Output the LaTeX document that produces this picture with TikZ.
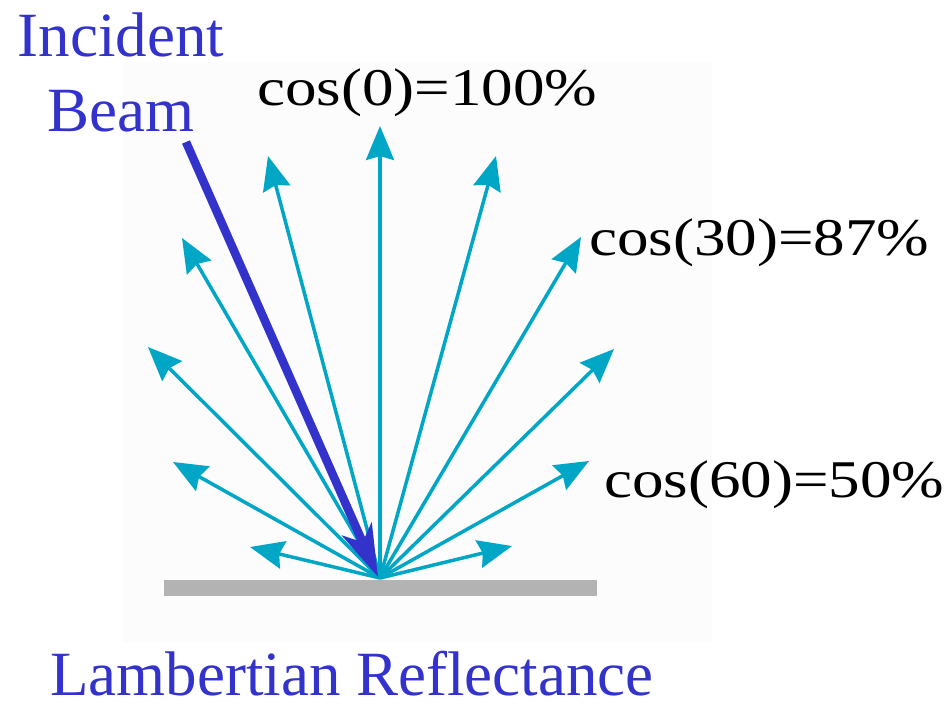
\documentclass[tikz,border=0pt]{standalone}
\usepackage{fontspec}
\setmainfont{Liberation Serif}
\newfontfamily\timesfont{Liberation Serif}
\usetikzlibrary{arrows.meta}
\definecolor{raycyan}{RGB}{0,166,198}
\definecolor{beamblue}{RGB}{51,51,204}
\definecolor{bargray}{RGB}{179,179,179}
\definecolor{bgpale}{RGB}{252,252,252}
\tikzset{
  ray/.style={draw=raycyan, line width=3.5pt, -{Stealth[length=34pt,width=28pt,inset=4pt]}},
  beam/.style={draw=beamblue, line width=8.5pt, -{Stealth[length=52pt,width=32pt,inset=14pt]}},
  bluelabel/.style={text=beamblue, inner sep=0pt, font=\timesfont\fontsize{63}{70}\selectfont},
  blacklabel/.style={text=black, inner sep=0pt, font=\timesfont\fontsize{53}{60}\selectfont},
}
\begin{document}
\begin{tikzpicture}[x=1pt,y=-1pt]
\useasboundingbox (0,0) rectangle (948,705);
\fill[bgpale] (123,62) rectangle (712,642);
% ground bar
\fill[bargray] (164,580) rectangle (597,596);
% origin and ray tips
\coordinate (O) at (380,578);
\coordinate (t0) at (380,126);
\coordinate (l15) at (268,156);
\coordinate (r15) at (496,156);
\coordinate (l30) at (182,238);
\coordinate (r30) at (581,237);
\coordinate (l45) at (148,347);
\coordinate (r45) at (614,349);
\coordinate (l60) at (173,462);
\coordinate (r60) at (589,461);
\coordinate (l75) at (250,547);
\coordinate (r75) at (512,546);
\foreach \t in {t0,l15,r15,l30,r30,l45,r45,l60,r60,l75,r75}
  \draw[ray] (O) -- (\t);
% incident beam
\coordinate (src) at (186,142);
\coordinate (hit) at (378,577);
\draw[beam] (src) -- (hit);
% labels
\node[bluelabel, anchor=base] (inc) at (121,56) {Incident};
\node[bluelabel, anchor=base] (bm) at (121,131) {Beam};
\node[blacklabel, anchor=base west] (c0) at (257,105) {\scalebox{1.19}[1]{cos(0)=100\%}};
\node[blacklabel, anchor=base west] (c30) at (589,255) {\scalebox{1.19}[1]{cos(30)=87\%}};
\node[blacklabel, anchor=base west] (c60) at (604,497) {\scalebox{1.19}[1]{cos(60)=50\%}};
\node[bluelabel, anchor=base west] (lam) at (50,695) {Lambertian Reflectance};
\end{tikzpicture}
\end{document}
